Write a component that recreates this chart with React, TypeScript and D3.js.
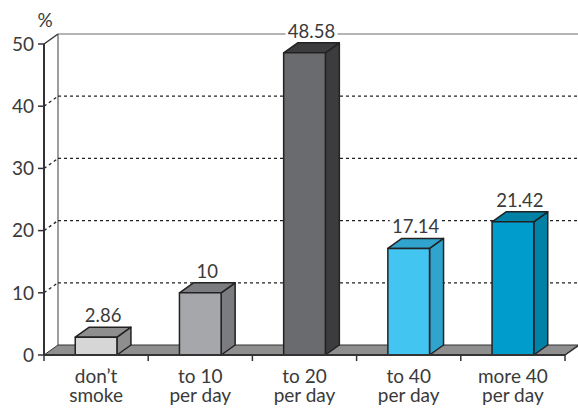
import React from "react";
import * as d3 from "d3";

const categories = [["don\u2019t", "smoke"], ["to 10", "per day"], ["to 20", "per day"], ["to 40", "per day"], ["more 40", "per day"]];
const values = [2.86, 10, 48.58, 17.14, 21.42];
const labels = ["2.86", "10", "48.58", "17.14", "21.42"];
const yTicks = [0, 10, 20, 30, 40, 50];
const fronts = ["#d6d6d6", "#a6a7aa", "#6a6b6f", "#42c5f1", "#009ccc"];
const sides = ["#8e8e8e", "#7b7c7f", "#3c3c3e", "#30a4cd", "#0081a5"];

const W = 578;
const H = 408;
const DX = 14;
const DY = -10;
const font = "Lato, 'Open Sans', sans-serif";

const App = () => {
  const margin = { top: 44, right: 13, bottom: 53, left: 44 };
  const x = d3
    .scaleBand()
    .domain(categories.map((_, i) => String(i)))
    .range([margin.left, W - margin.right])
    .paddingInner(0.6)
    .paddingOuter(0.3);
  const band = (W - margin.right - margin.left) / categories.length;
  const y = d3.scaleLinear().domain([0, 50]).range([H - margin.bottom, margin.top]);
  const y0 = y(0);
  const xEnd = W - margin.right;

  return (
    <svg width={W} height={H} style={{ position: "absolute", left: 0, top: 0 }}>
      <rect width={W} height={H} fill="#fff" />
      {/* back wall */}
      <line x1={margin.left + DX} x2={margin.left + DX} y1={y(50) + DY} y2={y0 + DY} stroke="#9d9d9d" strokeWidth={2} />
      <line x1={margin.left + DX} x2={W} y1={y(50) + DY} y2={y(50) + DY} stroke="#9d9d9d" strokeWidth={1.5} />
      {yTicks.filter((t) => t > 0 && t < 50).map((t) => (
        <g key={t}>
          <line x1={margin.left + DX} x2={W} y1={y(t) + DY} y2={y(t) + DY} stroke="#222" strokeWidth={1.3} strokeDasharray="3,3" />
          <line x1={margin.left} x2={margin.left + DX} y1={y(t)} y2={y(t) + DY} stroke="#222" strokeWidth={1.3} strokeDasharray="3,3" />
        </g>
      ))}
      <line x1={margin.left} x2={margin.left + DX} y1={y(50)} y2={y(50) + DY} stroke="#333" strokeWidth={1.5} />
      {/* floor */}
      <polygon
        points={`${margin.left},${y0} ${xEnd},${y0} ${xEnd + DX},${y0 + DY} ${margin.left + DX},${y0 + DY}`}
        fill="#8f8f8f"
        stroke="#333"
        strokeWidth={1}
      />
      {/* bars */}
      {values.map((v, i) => {
        const bx = x(String(i))!;
        const bw = x.bandwidth();
        const top = y(v);
        return (
          <g key={i} stroke="#222" strokeWidth={1.5} strokeLinejoin="round">
            <polygon points={`${bx + bw},${top} ${bx + bw + DX},${top + DY} ${bx + bw + DX},${y0 + DY} ${bx + bw},${y0}`} fill={sides[i]} />
            <polygon points={`${bx},${top} ${bx + DX},${top + DY} ${bx + bw + DX},${top + DY} ${bx + bw},${top}`} fill={sides[i]} />
            <rect x={bx} y={top} width={bw} height={y0 - top} fill={fronts[i]} />
          </g>
        );
      })}
      {/* value labels */}
      {values.map((v, i) => {
        const cx = x(String(i))! + x.bandwidth() / 2 + DX / 2;
        const ty = y(v) + DY - 5;
        return (
          <g key={i}>
            <rect x={cx - 26} y={ty - 15} width={52} height={17} fill="#fff" />
            <text x={cx} y={ty} textAnchor="middle" fontFamily={font} fontSize={18.5} fill="#3a3a3a">
              {labels[i]}
            </text>
          </g>
        );
      })}
      {/* y axis */}
      <line x1={margin.left} x2={margin.left} y1={y(50)} y2={y0} stroke="#333" strokeWidth={2} />
      {yTicks.map((t) => (
        <g key={t}>
          <line x1={margin.left - 6} x2={margin.left} y1={y(t)} y2={y(t)} stroke="#333" strokeWidth={1.5} />
          <text x={margin.left - 10} y={y(t)} dy="0.36em" textAnchor="end" fontFamily={font} fontSize={19} fill="#3a3a3a">
            {t}
          </text>
        </g>
      ))}
      <text x={45} y={27} textAnchor="middle" fontFamily={font} fontSize={19} fill="#3a3a3a">%</text>
      {/* x axis */}
      <line x1={margin.left} x2={xEnd} y1={y0} y2={y0} stroke="#333" strokeWidth={2} />
      <line x1={xEnd} x2={xEnd + DX} y1={y0} y2={y0 + DY} stroke="#333" strokeWidth={1.5} />
      {d3.range(categories.length + 1).map((k) => (
        <line key={k} x1={margin.left + k * band} x2={margin.left + k * band} y1={y0} y2={y0 + 6} stroke="#333" strokeWidth={1.5} />
      ))}
      {categories.map((c, i) => {
        const cx = x(String(i))! + x.bandwidth() / 2;
        return (
          <g key={i}>
            <text x={cx} y={383} textAnchor="middle" fontFamily={font} fontSize={19} fill="#3a3a3a">{c[0]}</text>
            <text x={cx} y={402} textAnchor="middle" fontFamily={font} fontSize={19} fill="#3a3a3a">{c[1]}</text>
          </g>
        );
      })}
    </svg>
  );
};

export default App;
